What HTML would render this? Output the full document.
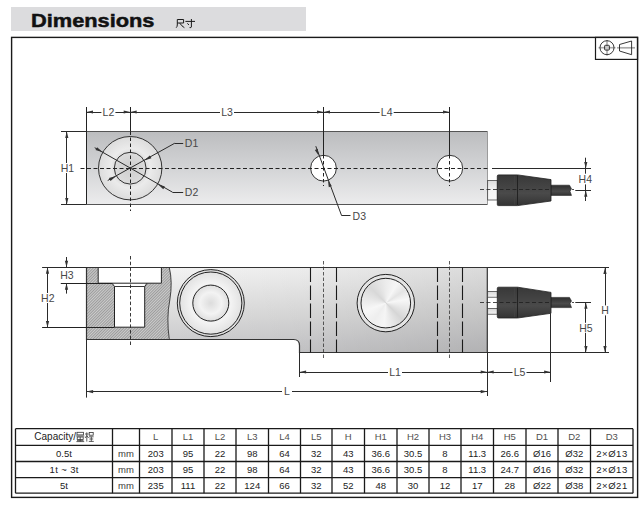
<!DOCTYPE html><html><head><meta charset="utf-8"><style>
html,body{margin:0;padding:0;background:#fff;width:644px;height:506px;overflow:hidden}
svg{display:block}
text{font-family:"Liberation Sans",sans-serif}
</style></head><body>
<svg width="644" height="506" viewBox="0 0 644 506">
<defs>
<linearGradient id="gTop" x1="0" y1="0" x2="0" y2="1">
 <stop offset="0" stop-color="#bcbdbf"/><stop offset="0.5" stop-color="#d3d4d6"/><stop offset="1" stop-color="#ececed"/>
</linearGradient>
<radialGradient id="gCirc" cx="0.5" cy="0.5" r="0.5">
 <stop offset="0" stop-color="#cdcdcd"/><stop offset="0.45" stop-color="#dadada"/><stop offset="0.62" stop-color="#ebebeb"/><stop offset="1" stop-color="#dcdcdc"/>
</radialGradient>
<linearGradient id="gSideH" gradientUnits="userSpaceOnUse" x1="170" y1="0" x2="487" y2="0">
 <stop offset="0" stop-color="#000" stop-opacity="0"/><stop offset="0.45" stop-color="#000" stop-opacity="0.03"/><stop offset="1" stop-color="#000" stop-opacity="0.1"/>
</linearGradient>
<linearGradient id="gSide" x1="0" y1="0" x2="0" y2="1">
 <stop offset="0" stop-color="#f3f3f3"/><stop offset="0.5" stop-color="#dddddd"/><stop offset="1" stop-color="#c5c5c7"/>
</linearGradient>
<radialGradient id="gRing" cx="0.5" cy="0.5" r="0.5">
 <stop offset="0" stop-color="#dcdcdc"/><stop offset="0.6" stop-color="#f3f3f3"/><stop offset="1" stop-color="#dedede"/>
</radialGradient>
<linearGradient id="gCable" x1="0" y1="0" x2="0" y2="1">
 <stop offset="0" stop-color="#2e2e2e"/><stop offset="0.6" stop-color="#4a4a4a"/><stop offset="1" stop-color="#333"/>
</linearGradient>
<linearGradient id="gStub2" x1="0" y1="0" x2="0" y2="1">
 <stop offset="0" stop-color="#d8d8d8"/><stop offset="1" stop-color="#f4f4f4"/>
</linearGradient>
<linearGradient id="gStub" x1="0" y1="0" x2="0" y2="1">
 <stop offset="0" stop-color="#dedede"/><stop offset="0.45" stop-color="#f4f4f4"/><stop offset="1" stop-color="#f8f8f8"/>
</linearGradient>
<linearGradient id="gGland" x1="0" y1="0" x2="0" y2="1">
 <stop offset="0" stop-color="#383838"/><stop offset="0.6" stop-color="#4a4a4a"/><stop offset="1" stop-color="#333333"/>
</linearGradient>
<pattern id="hatch" patternUnits="userSpaceOnUse" width="2" height="2" patternTransform="rotate(45)">
 <rect width="2.2" height="2.2" fill="#9c9c9c"/><rect width="0.9" height="2.2" fill="#d2d2d2"/>
</pattern>
</defs>

<rect x="11" y="7" width="295" height="24" fill="#dcdcde"/>
<text x="31" y="26.9" font-size="19.2" font-weight="bold" fill="#111" textLength="123.5" lengthAdjust="spacingAndGlyphs" stroke="#111" stroke-width="0.5">Dimensions</text>
<g fill="none" stroke="#1a1a1a" stroke-width="1"><path d="M177.3,19.5 H183.6 V23 H177.3"/><path d="M177.3,19.5 V25 Q177.2,26.8 176.2,27.7"/><path d="M179.8,23.2 Q181.8,26.2 184.4,27.7"/><path d="M185.4,21.4 H195"/><path d="M191.4,19 V27 Q191.3,27.9 189.6,27.6"/><path d="M187.4,23.3 L188.9,25"/></g>
<rect x="11.6" y="37.4" width="626" height="460" fill="none" stroke="#1a1a1a" stroke-width="1.4"/>
<rect x="595.5" y="37.4" width="42" height="22" fill="none" stroke="#1a1a1a" stroke-width="1.2"/>
<line x1="598.5" y1="47.7" x2="615.5" y2="47.7" stroke="#aaa" stroke-width="1.6"/>
<line x1="607" y1="40" x2="607" y2="55.5" stroke="#aaa" stroke-width="1.6"/>
<circle cx="607" cy="47.7" r="7" fill="none" stroke="#222" stroke-width="0.9"/>
<rect x="604.6" y="45.3" width="4.8" height="4.8" rx="0.8" fill="#c8c8c8" stroke="#222" stroke-width="0.9"/>
<line x1="617" y1="47.8" x2="635" y2="47.8" stroke="#aaa" stroke-width="1.7"/>
<path d="M619.5,44.5 L631.6,41 V54.7 L619.5,51 Z" fill="none" stroke="#222" stroke-width="0.9"/>
<rect x="86.5" y="131.5" width="401.0" height="73.0" fill="url(#gTop)"/>
<line x1="86.5" y1="131.5" x2="487.5" y2="131.5" stroke="#555" stroke-width="1.2"/>
<line x1="86.5" y1="204.5" x2="487.5" y2="204.5" stroke="#555" stroke-width="1.2"/>
<line x1="487.5" y1="131.5" x2="487.5" y2="204.5" stroke="#888" stroke-width="0.8"/>
<circle cx="130.2" cy="168.2" r="31.7" fill="url(#gCirc)" stroke="#333" stroke-width="1"/>
<circle cx="130.2" cy="168.2" r="15.9" fill="none" stroke="#333" stroke-width="1"/>
<circle cx="323.5" cy="168.2" r="12.9" fill="#fff" stroke="#333" stroke-width="1"/>
<circle cx="449.8" cy="168.2" r="12.9" fill="#fff" stroke="#333" stroke-width="1"/>
<line x1="80.5" y1="168.5" x2="487.7" y2="168.5" stroke="#222" stroke-width="1" stroke-dasharray="4,2.5"/>
<line x1="86.5" y1="107" x2="86.5" y2="204.5" stroke="#222" stroke-width="1"/>
<line x1="130.5" y1="107" x2="130.5" y2="131.5" stroke="#222" stroke-width="1"/>
<line x1="130.5" y1="131.5" x2="130.5" y2="211" stroke="#222" stroke-width="1" stroke-dasharray="3.5,2.5"/>
<line x1="323.5" y1="107" x2="323.5" y2="155" stroke="#222" stroke-width="1"/>
<line x1="323.5" y1="155" x2="323.5" y2="186" stroke="#222" stroke-width="1" stroke-dasharray="3.5,2.5"/>
<line x1="449.5" y1="107" x2="449.5" y2="155" stroke="#222" stroke-width="1"/>
<line x1="449.5" y1="155" x2="449.5" y2="186" stroke="#222" stroke-width="1" stroke-dasharray="3.5,2.5"/>
<line x1="86.5" y1="112.5" x2="449.5" y2="112.5" stroke="#2a2a2a" stroke-width="1"/>
<path d="M86.50,112.00 L93.00,110.40 L93.00,113.60 Z" fill="#333"/>
<path d="M130.20,112.00 L123.70,113.60 L123.70,110.40 Z" fill="#333"/>
<path d="M130.20,112.00 L136.70,110.40 L136.70,113.60 Z" fill="#333"/>
<path d="M323.50,112.00 L317.00,113.60 L317.00,110.40 Z" fill="#333"/>
<path d="M323.50,112.00 L330.00,110.40 L330.00,113.60 Z" fill="#333"/>
<path d="M449.50,112.00 L443.00,113.60 L443.00,110.40 Z" fill="#333"/>
<rect x="101.40" y="107.00" width="14.00" height="10" fill="#fff"/>
<text x="108.4" y="115.78" font-size="10.5" fill="#474747" text-anchor="middle" >L2</text>
<rect x="220.00" y="107.00" width="14.00" height="10" fill="#fff"/>
<text x="227" y="115.78" font-size="10.5" fill="#474747" text-anchor="middle" >L3</text>
<rect x="379.70" y="107.00" width="14.00" height="10" fill="#fff"/>
<text x="386.7" y="115.78" font-size="10.5" fill="#474747" text-anchor="middle" >L4</text>
<line x1="61" y1="131.5" x2="86.5" y2="131.5" stroke="#2a2a2a" stroke-width="1"/>
<line x1="61" y1="204.5" x2="86.5" y2="204.5" stroke="#2a2a2a" stroke-width="1"/>
<line x1="66.5" y1="131.5" x2="66.5" y2="204.5" stroke="#2a2a2a" stroke-width="1"/>
<path d="M66.80,131.50 L68.40,138.00 L65.20,138.00 Z" fill="#333"/>
<path d="M66.80,204.50 L65.20,198.00 L68.40,198.00 Z" fill="#333"/>
<rect x="60.40" y="163.00" width="14.00" height="10" fill="#fff"/>
<text x="67.4" y="171.78" font-size="10.5" fill="#474747" text-anchor="middle" >H1</text>
<line x1="107.7" y1="180.5" x2="174.8" y2="143.2" stroke="#2a2a2a" stroke-width="1"/>
<line x1="174.8" y1="143.5" x2="183.2" y2="143.5" stroke="#2a2a2a" stroke-width="1"/>
<path d="M116.30,175.90 L110.50,180.92 L108.96,178.11 Z" fill="#333"/>
<path d="M144.10,160.50 L149.90,155.48 L151.44,158.29 Z" fill="#333"/>
<text x="184.8" y="147.2" font-size="10.5" fill="#474747" text-anchor="start" >D1</text>
<line x1="94.7" y1="147.7" x2="172.5" y2="192.2" stroke="#2a2a2a" stroke-width="1"/>
<line x1="172.5" y1="192.5" x2="183.2" y2="192.5" stroke="#2a2a2a" stroke-width="1"/>
<path d="M102.80,152.30 L95.51,149.92 L97.12,147.15 Z" fill="#333"/>
<path d="M157.60,184.10 L164.89,186.48 L163.28,189.25 Z" fill="#333"/>
<text x="184.8" y="196.4" font-size="10.5" fill="#474747" text-anchor="start" >D2</text>
<line x1="315.8" y1="146.2" x2="341.6" y2="215.6" stroke="#2a2a2a" stroke-width="1"/>
<line x1="341.6" y1="215.5" x2="350.5" y2="215.5" stroke="#2a2a2a" stroke-width="1"/>
<path d="M318.60,155.50 L314.84,149.96 L317.83,148.85 Z" fill="#333"/>
<path d="M328.00,180.50 L331.76,186.04 L328.77,187.15 Z" fill="#333"/>
<text x="352.6" y="220.3" font-size="10.5" fill="#474747" text-anchor="start" >D3</text>
<rect x="487.7" y="180.5" width="9.6" height="19.5" fill="url(#gStub)" stroke="#333" stroke-width="0.7"/>
<path d="M551,185.2 H569.5 L571.5,188.8 L570,191.3 L571.5,195.4 H551 Z" fill="url(#gCable)" stroke="#222" stroke-width="0.6"/>
<path d="M498.5,174.9 H517.6 L551,179.6 V201 L517.6,205.6 H498.5 Q497.3,205.6 497.3,204.4 V176.1 Q497.3,174.9 498.5,174.9 Z" fill="url(#gGland)" stroke="#222" stroke-width="0.8"/>
<line x1="517.5" y1="175.4" x2="517.5" y2="205.1" stroke="#1e1e1e" stroke-width="0.9"/>
<line x1="514.5" y1="175.9" x2="514.5" y2="204.6" stroke="#444" stroke-width="0.6"/>
<line x1="480" y1="189.5" x2="551" y2="189.5" stroke="#1e1e1e" stroke-width="0.8" stroke-dasharray="4,2.5"/>
<line x1="572" y1="189.5" x2="574" y2="189.5" stroke="#222" stroke-width="0.8"/>
<line x1="575.3" y1="190.5" x2="591" y2="190.5" stroke="#2a2a2a" stroke-width="1"/>
<line x1="492" y1="168.5" x2="591" y2="168.5" stroke="#2a2a2a" stroke-width="1"/>
<line x1="585.5" y1="157.7" x2="585.5" y2="173.7" stroke="#2a2a2a" stroke-width="1"/>
<path d="M585.80,168.40 L584.20,161.90 L587.40,161.90 Z" fill="#333"/>
<line x1="585.5" y1="184.4" x2="585.5" y2="201" stroke="#2a2a2a" stroke-width="1"/>
<path d="M585.80,190.30 L587.40,196.80 L584.20,196.80 Z" fill="#333"/>
<text x="585.3" y="183.2" font-size="10.5" fill="#474747" text-anchor="middle" >H4</text>
<path d="M86.5,267.5 H487.3 V352.5 H299.5 V345.5 Q299.5,339.5 293.5,339.5 H86.5 Z" fill="url(#gSide)"/>
<path d="M86.5,267.5 H487.3 V352.5 H299.5 V345.5 Q299.5,339.5 293.5,339.5 H86.5 Z" fill="url(#gSideH)"/>
<path d="M86.5,267.5 H98.2 V283.2 H161.4 V267.5 H169.3 Q172.8,282 169.8,300 Q166.2,318 169.3,339.5 H86.5 Z M114.5,283.2 V327.2 H144.7 V283.2 Z" fill="url(#hatch)" fill-rule="evenodd"/>
<rect x="98.2" y="267.5" width="63.2" height="15.699999999999989" fill="#fff"/>
<path d="M112,283.2 L114.5,286.5 V327.2 H144.7 V286.5 L147,283.2 Z" fill="#fff"/>
<path d="M98.2,267.5 V283.2 H161.4 V267.5" fill="none" stroke="#222" stroke-width="1"/>
<path d="M112,283.2 L114.5,286.5 V327.2 H144.7 V286.5 L147,283.2" fill="none" stroke="#222" stroke-width="1"/>
<line x1="114.5" y1="286.5" x2="144.7" y2="286.5" stroke="#222" stroke-width="0.9"/>
<path d="M169.3,267.5 Q172.8,282 169.8,300 Q166.2,318 169.3,339.5" fill="none" stroke="#333" stroke-width="0.9"/>
<path d="M86.5,267.5 H487.3 V352.5 H299.5 V345.5 Q299.5,339.5 293.5,339.5 H86.5 Z" fill="none" stroke="#333" stroke-width="1.2"/>
<circle cx="210.8" cy="303.1" r="33.5" fill="url(#gRing)" stroke="#222" stroke-width="1"/>
<circle cx="210.8" cy="303.1" r="31.1" fill="none" stroke="#222" stroke-width="1"/>
<circle cx="210.8" cy="303.1" r="18" fill="url(#gRing)" stroke="#222" stroke-width="1"/>
<circle cx="385.8" cy="303.1" r="28.7" fill="#e4e4e4" stroke="#222" stroke-width="1"/>
<foreignObject x="360.8" y="278.1" width="50" height="50"><div style="width:50px;height:50px;border-radius:50%;background:conic-gradient(from 0deg,#ececec 0deg,#f6f6f6 30deg,#e4e4e4 55deg,#f7f7f7 80deg,#d6d6d6 135deg,#f5f5f5 185deg,#eeeeee 215deg,#f7f7f7 250deg,#d8d8d8 315deg,#ececec 360deg)"></div></foreignObject>
<circle cx="385.8" cy="303.1" r="24.8" fill="none" stroke="#222" stroke-width="1"/>
<line x1="310.5" y1="267.5" x2="310.5" y2="352.5" stroke="#1a1a1a" stroke-width="1.1" stroke-dasharray="14.5,3.5"/>
<line x1="336.5" y1="267.5" x2="336.5" y2="352.5" stroke="#1a1a1a" stroke-width="1.1" stroke-dasharray="14.5,3.5"/>
<line x1="437.5" y1="267.5" x2="437.5" y2="352.5" stroke="#1a1a1a" stroke-width="1.1" stroke-dasharray="14.5,3.5"/>
<line x1="462.5" y1="267.5" x2="462.5" y2="352.5" stroke="#1a1a1a" stroke-width="1.1" stroke-dasharray="14.5,3.5"/>
<line x1="323.5" y1="261" x2="323.5" y2="358" stroke="#333" stroke-width="0.8" stroke-dasharray="3.5,2"/>
<line x1="449.5" y1="261" x2="449.5" y2="358" stroke="#333" stroke-width="0.8" stroke-dasharray="3.5,2"/>
<line x1="130.5" y1="256" x2="130.5" y2="346" stroke="#222" stroke-width="0.9" stroke-dasharray="3.5,2.2"/>
<line x1="42.1" y1="267.5" x2="86.6" y2="267.5" stroke="#2a2a2a" stroke-width="1"/>
<line x1="60.8" y1="283.5" x2="112" y2="283.5" stroke="#222" stroke-width="1"/>
<line x1="42.1" y1="327.5" x2="114.5" y2="327.5" stroke="#222" stroke-width="1"/>
<line x1="66.5" y1="257" x2="66.5" y2="267.3" stroke="#2a2a2a" stroke-width="1"/>
<path d="M66.50,267.30 L64.90,260.80 L68.10,260.80 Z" fill="#333"/>
<line x1="66.5" y1="283.3" x2="66.5" y2="293.6" stroke="#2a2a2a" stroke-width="1"/>
<path d="M66.50,283.30 L68.10,289.80 L64.90,289.80 Z" fill="#333"/>
<text x="67" y="279.2" font-size="10.5" fill="#474747" text-anchor="middle" >H3</text>
<line x1="47.5" y1="267.3" x2="47.5" y2="327.4" stroke="#2a2a2a" stroke-width="1"/>
<path d="M47.50,267.30 L49.10,273.80 L45.90,273.80 Z" fill="#333"/>
<path d="M47.50,327.40 L45.90,320.90 L49.10,320.90 Z" fill="#333"/>
<rect x="40.80" y="293.00" width="14.00" height="10" fill="#fff"/>
<text x="47.8" y="301.78" font-size="10.5" fill="#474747" text-anchor="middle" >H2</text>
<line x1="86.5" y1="339.5" x2="86.5" y2="397.6" stroke="#2a2a2a" stroke-width="1"/>
<line x1="487.5" y1="352.5" x2="487.5" y2="396" stroke="#2a2a2a" stroke-width="1"/>
<line x1="299.5" y1="352.5" x2="299.5" y2="377" stroke="#2a2a2a" stroke-width="1"/>
<line x1="550.5" y1="313.3" x2="550.5" y2="382" stroke="#2a2a2a" stroke-width="1"/>
<line x1="86.6" y1="391.5" x2="487.2" y2="391.5" stroke="#2a2a2a" stroke-width="1"/>
<path d="M86.60,391.60 L93.10,390.00 L93.10,393.20 Z" fill="#333"/>
<path d="M487.20,391.60 L480.70,393.20 L480.70,390.00 Z" fill="#333"/>
<rect x="282.00" y="386.60" width="10.00" height="10" fill="#fff"/>
<text x="287" y="395.38" font-size="10.5" fill="#474747" text-anchor="middle" >L</text>
<line x1="299.6" y1="372.5" x2="550.6" y2="372.5" stroke="#2a2a2a" stroke-width="1"/>
<path d="M299.60,372.00 L306.10,370.40 L306.10,373.60 Z" fill="#333"/>
<path d="M487.20,372.00 L480.70,373.60 L480.70,370.40 Z" fill="#333"/>
<path d="M487.20,372.00 L493.70,370.40 L493.70,373.60 Z" fill="#333"/>
<path d="M550.60,372.00 L544.10,373.60 L544.10,370.40 Z" fill="#333"/>
<rect x="388.00" y="367.00" width="14.00" height="10" fill="#fff"/>
<text x="395" y="375.78" font-size="10.5" fill="#474747" text-anchor="middle" >L1</text>
<rect x="512.50" y="367.00" width="14.00" height="10" fill="#fff"/>
<text x="519.5" y="375.78" font-size="10.5" fill="#474747" text-anchor="middle" >L5</text>
<line x1="487.3" y1="267.5" x2="609" y2="267.5" stroke="#2a2a2a" stroke-width="1"/>
<line x1="487.3" y1="352.5" x2="609" y2="352.5" stroke="#2a2a2a" stroke-width="1"/>
<line x1="605.5" y1="267.4" x2="605.5" y2="352.5" stroke="#2a2a2a" stroke-width="1"/>
<path d="M605.00,267.40 L606.60,273.90 L603.40,273.90 Z" fill="#333"/>
<path d="M605.00,352.50 L603.40,346.00 L606.60,346.00 Z" fill="#333"/>
<rect x="600.00" y="305.40" width="10.00" height="10" fill="#fff"/>
<text x="605" y="314.17999999999995" font-size="10.5" fill="#474747" text-anchor="middle" >H</text>
<line x1="585.5" y1="302.2" x2="585.5" y2="352.5" stroke="#2a2a2a" stroke-width="1"/>
<path d="M585.90,302.20 L587.50,308.70 L584.30,308.70 Z" fill="#333"/>
<path d="M585.90,352.50 L584.30,346.00 L587.50,346.00 Z" fill="#333"/>
<rect x="578.90" y="322.80" width="14.00" height="10" fill="#fff"/>
<text x="585.9" y="331.58" font-size="10.5" fill="#474747" text-anchor="middle" >H5</text>
<rect x="487.7" y="291.4" width="9.6" height="5.800000000000011" fill="url(#gStub2)" stroke="#333" stroke-width="0.7"/>
<rect x="487.7" y="308.4" width="9.6" height="5.800000000000011" fill="url(#gStub2)" stroke="#333" stroke-width="0.7"/>
<path d="M551,297.4 H569.5 L571.5,301.0 L570,303.5 L571.5,307.6 H551 Z" fill="url(#gCable)" stroke="#222" stroke-width="0.6"/>
<path d="M498.5,287.2 H517.6 L551,292.4 V313.3 L517.6,318 H498.5 Q497.3,318 497.3,316.8 V288.4 Q497.3,287.2 498.5,287.2 Z" fill="url(#gGland)" stroke="#222" stroke-width="0.8"/>
<line x1="517.5" y1="287.7" x2="517.5" y2="317.5" stroke="#1e1e1e" stroke-width="0.9"/>
<line x1="514.5" y1="288.2" x2="514.5" y2="317" stroke="#444" stroke-width="0.6"/>
<line x1="480" y1="302.5" x2="551" y2="302.5" stroke="#1e1e1e" stroke-width="0.8" stroke-dasharray="4,2.5"/>
<line x1="572" y1="302.5" x2="574" y2="302.5" stroke="#222" stroke-width="0.8"/>
<line x1="575.3" y1="302.5" x2="591" y2="302.5" stroke="#2a2a2a" stroke-width="1"/>
<g stroke="#1a1a1a" stroke-width="1.3">
<line x1="15.5" y1="428.7" x2="15.5" y2="493.2"/>
<line x1="112.5" y1="428.7" x2="112.5" y2="493.2"/>
<line x1="139.5" y1="428.7" x2="139.5" y2="493.2"/>
<line x1="172" y1="428.7" x2="172" y2="493.2"/>
<line x1="204" y1="428.7" x2="204" y2="493.2"/>
<line x1="236" y1="428.7" x2="236" y2="493.2"/>
<line x1="268.5" y1="428.7" x2="268.5" y2="493.2"/>
<line x1="300.5" y1="428.7" x2="300.5" y2="493.2"/>
<line x1="332" y1="428.7" x2="332" y2="493.2"/>
<line x1="364.5" y1="428.7" x2="364.5" y2="493.2"/>
<line x1="397" y1="428.7" x2="397" y2="493.2"/>
<line x1="429" y1="428.7" x2="429" y2="493.2"/>
<line x1="461" y1="428.7" x2="461" y2="493.2"/>
<line x1="493.5" y1="428.7" x2="493.5" y2="493.2"/>
<line x1="526" y1="428.7" x2="526" y2="493.2"/>
<line x1="558" y1="428.7" x2="558" y2="493.2"/>
<line x1="590.5" y1="428.7" x2="590.5" y2="493.2"/>
<line x1="633" y1="428.7" x2="633" y2="493.2"/>
<line x1="15.5" y1="428.7" x2="633" y2="428.7"/>
<line x1="15.5" y1="445.3" x2="633" y2="445.3"/>
<line x1="15.5" y1="461.5" x2="633" y2="461.5"/>
<line x1="15.5" y1="477.6" x2="633" y2="477.6"/>
<line x1="15.5" y1="493.2" x2="633" y2="493.2"/>
</g>
<text x="34.3" y="440.4" font-size="10" fill="#222">Capacity/</text>
<text x="155.75" y="440.4" font-size="9.5" fill="#505050" text-anchor="middle">L</text>
<text x="188.0" y="440.4" font-size="9.5" fill="#505050" text-anchor="middle">L1</text>
<text x="220.0" y="440.4" font-size="9.5" fill="#505050" text-anchor="middle">L2</text>
<text x="252.25" y="440.4" font-size="9.5" fill="#505050" text-anchor="middle">L3</text>
<text x="284.5" y="440.4" font-size="9.5" fill="#505050" text-anchor="middle">L4</text>
<text x="316.25" y="440.4" font-size="9.5" fill="#505050" text-anchor="middle">L5</text>
<text x="348.25" y="440.4" font-size="9.5" fill="#505050" text-anchor="middle">H</text>
<text x="380.75" y="440.4" font-size="9.5" fill="#505050" text-anchor="middle">H1</text>
<text x="413.0" y="440.4" font-size="9.5" fill="#505050" text-anchor="middle">H2</text>
<text x="445.0" y="440.4" font-size="9.5" fill="#505050" text-anchor="middle">H3</text>
<text x="477.25" y="440.4" font-size="9.5" fill="#505050" text-anchor="middle">H4</text>
<text x="509.75" y="440.4" font-size="9.5" fill="#505050" text-anchor="middle">H5</text>
<text x="542.0" y="440.4" font-size="9.5" fill="#505050" text-anchor="middle">D1</text>
<text x="574.25" y="440.4" font-size="9.5" fill="#505050" text-anchor="middle">D2</text>
<text x="611.75" y="440.4" font-size="9.5" fill="#505050" text-anchor="middle">D3</text>
<text x="64.0" y="456.79999999999995" font-size="9.5" fill="#222" text-anchor="middle">0.5t</text>
<text x="126.0" y="456.79999999999995" font-size="9.5" fill="#3a3a3a" text-anchor="middle">mm</text>
<text x="155.75" y="456.79999999999995" font-size="9.5" fill="#222" text-anchor="middle">203</text>
<text x="188.0" y="456.79999999999995" font-size="9.5" fill="#222" text-anchor="middle">95</text>
<text x="220.0" y="456.79999999999995" font-size="9.5" fill="#222" text-anchor="middle">22</text>
<text x="252.25" y="456.79999999999995" font-size="9.5" fill="#222" text-anchor="middle">98</text>
<text x="284.5" y="456.79999999999995" font-size="9.5" fill="#222" text-anchor="middle">64</text>
<text x="316.25" y="456.79999999999995" font-size="9.5" fill="#222" text-anchor="middle">32</text>
<text x="348.25" y="456.79999999999995" font-size="9.5" fill="#222" text-anchor="middle">43</text>
<text x="380.75" y="456.79999999999995" font-size="9.5" fill="#222" text-anchor="middle">36.6</text>
<text x="413.0" y="456.79999999999995" font-size="9.5" fill="#222" text-anchor="middle">30.5</text>
<text x="445.0" y="456.79999999999995" font-size="9.5" fill="#222" text-anchor="middle">8</text>
<text x="477.25" y="456.79999999999995" font-size="9.5" fill="#222" text-anchor="middle">11.3</text>
<text x="509.75" y="456.79999999999995" font-size="9.5" fill="#222" text-anchor="middle">26.6</text>
<text x="542.0" y="456.79999999999995" font-size="9.5" fill="#222" text-anchor="middle">&#216;16</text>
<text x="574.25" y="456.79999999999995" font-size="9.5" fill="#222" text-anchor="middle">&#216;32</text>
<text x="611.75" y="456.79999999999995" font-size="9.5" fill="#222" text-anchor="middle" textLength="31" lengthAdjust="spacing">2&#215;&#216;13</text>
<text x="64.0" y="472.95" font-size="9.5" fill="#222" text-anchor="middle" textLength="29" lengthAdjust="spacing">1t ~ 3t</text>
<text x="126.0" y="472.95" font-size="9.5" fill="#3a3a3a" text-anchor="middle">mm</text>
<text x="155.75" y="472.95" font-size="9.5" fill="#222" text-anchor="middle">203</text>
<text x="188.0" y="472.95" font-size="9.5" fill="#222" text-anchor="middle">95</text>
<text x="220.0" y="472.95" font-size="9.5" fill="#222" text-anchor="middle">22</text>
<text x="252.25" y="472.95" font-size="9.5" fill="#222" text-anchor="middle">98</text>
<text x="284.5" y="472.95" font-size="9.5" fill="#222" text-anchor="middle">64</text>
<text x="316.25" y="472.95" font-size="9.5" fill="#222" text-anchor="middle">32</text>
<text x="348.25" y="472.95" font-size="9.5" fill="#222" text-anchor="middle">43</text>
<text x="380.75" y="472.95" font-size="9.5" fill="#222" text-anchor="middle">36.6</text>
<text x="413.0" y="472.95" font-size="9.5" fill="#222" text-anchor="middle">30.5</text>
<text x="445.0" y="472.95" font-size="9.5" fill="#222" text-anchor="middle">8</text>
<text x="477.25" y="472.95" font-size="9.5" fill="#222" text-anchor="middle">11.3</text>
<text x="509.75" y="472.95" font-size="9.5" fill="#222" text-anchor="middle">24.7</text>
<text x="542.0" y="472.95" font-size="9.5" fill="#222" text-anchor="middle">&#216;16</text>
<text x="574.25" y="472.95" font-size="9.5" fill="#222" text-anchor="middle">&#216;32</text>
<text x="611.75" y="472.95" font-size="9.5" fill="#222" text-anchor="middle" textLength="31" lengthAdjust="spacing">2&#215;&#216;13</text>
<text x="64.0" y="488.79999999999995" font-size="9.5" fill="#222" text-anchor="middle">5t</text>
<text x="126.0" y="488.79999999999995" font-size="9.5" fill="#3a3a3a" text-anchor="middle">mm</text>
<text x="155.75" y="488.79999999999995" font-size="9.5" fill="#222" text-anchor="middle">235</text>
<text x="188.0" y="488.79999999999995" font-size="9.5" fill="#222" text-anchor="middle">111</text>
<text x="220.0" y="488.79999999999995" font-size="9.5" fill="#222" text-anchor="middle">22</text>
<text x="252.25" y="488.79999999999995" font-size="9.5" fill="#222" text-anchor="middle">124</text>
<text x="284.5" y="488.79999999999995" font-size="9.5" fill="#222" text-anchor="middle">66</text>
<text x="316.25" y="488.79999999999995" font-size="9.5" fill="#222" text-anchor="middle">32</text>
<text x="348.25" y="488.79999999999995" font-size="9.5" fill="#222" text-anchor="middle">52</text>
<text x="380.75" y="488.79999999999995" font-size="9.5" fill="#222" text-anchor="middle">48</text>
<text x="413.0" y="488.79999999999995" font-size="9.5" fill="#222" text-anchor="middle">30</text>
<text x="445.0" y="488.79999999999995" font-size="9.5" fill="#222" text-anchor="middle">12</text>
<text x="477.25" y="488.79999999999995" font-size="9.5" fill="#222" text-anchor="middle">17</text>
<text x="509.75" y="488.79999999999995" font-size="9.5" fill="#222" text-anchor="middle">28</text>
<text x="542.0" y="488.79999999999995" font-size="9.5" fill="#222" text-anchor="middle">&#216;22</text>
<text x="574.25" y="488.79999999999995" font-size="9.5" fill="#222" text-anchor="middle">&#216;38</text>
<text x="611.75" y="488.79999999999995" font-size="9.5" fill="#222" text-anchor="middle" textLength="31" lengthAdjust="spacing">2&#215;&#216;21</text>
<g fill="none" stroke="#333" stroke-width="0.8"><rect x="77" y="432.3" width="6.5" height="2.6"/><path d="M76.2,436 H84.3"/><rect x="77.2" y="437" width="6" height="2.4"/><path d="M80.2,437 V441.5 M77,440.6 H83.5 M76.4,441.6 H84.2"/><path d="M85,434 H88.5 M86.8,432.3 V441.6 M85,438 L86.8,435.6 L88.6,438"/><rect x="89.2" y="432.4" width="4" height="2.8"/><path d="M89,436.8 H93.6 M91.3,436.8 V441.4 M89.4,439 H93.2 M88.8,441.4 H93.8"/></g>
</svg></body></html>
